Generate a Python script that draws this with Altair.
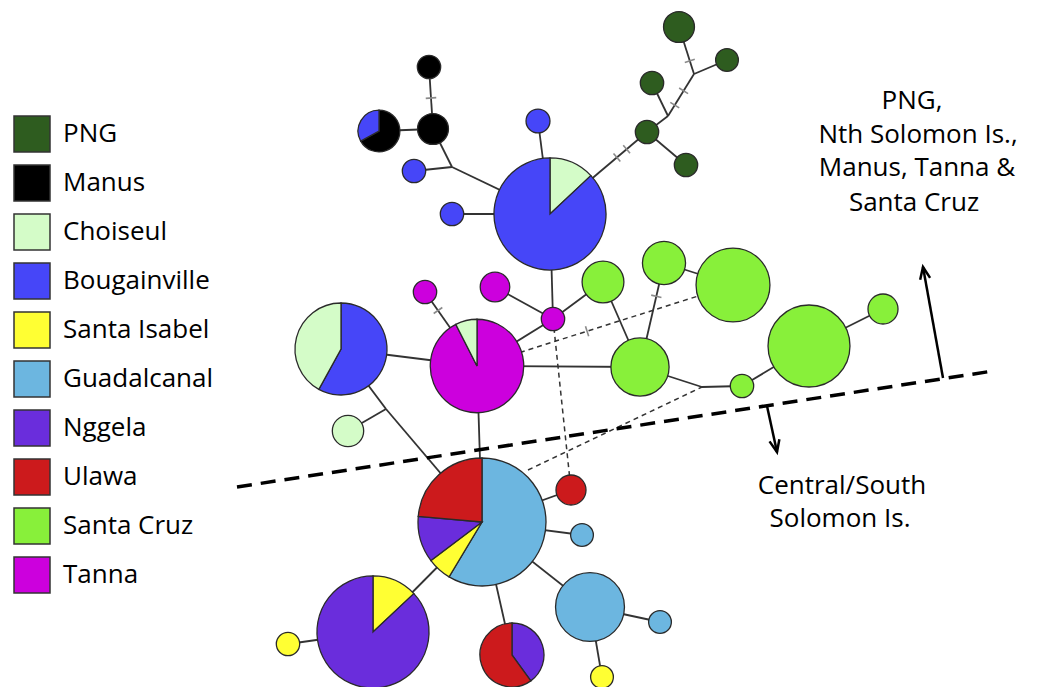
import math
import altair as alt
import pandas as pd

# ---- legend categories and colours ----
regions = ["PNG", "Manus", "Choiseul", "Bougainville", "Santa Isabel",
           "Guadalcanal", "Nggela", "Ulawa", "Santa Cruz", "Tanna"]
region_colors = ["#2e5c1f", "#000000", "#d4fcc8", "#4646f8", "#ffff33",
                 "#6cb6e0", "#6a2ddc", "#cc1a1c", "#88f03a", "#cc00dd"]

# ---- haplotype nodes: layout position and frequency ----
node_ids = ["M1", "M2", "MP", "B1", "B2", "B3", "BB",
            "P1", "P2", "P3", "P4", "P5",
            "CB", "C1", "T1", "T2", "T3", "TB",
            "SA", "SB", "SC", "SD", "SE", "SF", "SG",
            "GB", "R1", "G1", "GM", "G2", "Y1", "UN", "NB", "Y2",
            "J1", "J2", "J3", "J4", "J5", "J6"]
node_x = [429, 433, 379, 414, 452, 538, 550,
          679, 727, 652, 647, 686,
          341, 348, 425, 495, 553, 477,
          603, 664, 733, 640, 742, 809, 883,
          482, 571, 582, 590, 660, 602, 512, 373, 288,
          452, 694, 668, 702, 386, 528]
node_y = [63, 125, 127, 167, 210, 117, 210,
          23, 56, 79, 128, 161,
          345, 427, 288, 283, 315, 362,
          278, 259, 281, 363, 382, 342, 305,
          518, 486, 531, 603, 618, 673, 651, 628, 640,
          163, 70, 112, 383, 405, 466]
node_freq = [1.0, 1.75, 3.2, 1.0, 1.0, 1.05, 23,
             1.75, 0.95, 1.0, 1.0, 1.0,
             15.5, 1.8, 1.0, 1.6, 1.0, 16,
             3.2, 3.4, 10, 6.2, 1.0, 12.3, 1.65,
             30, 1.65, 0.95, 8.7, 0.95, 0.95, 7.5, 23, 1.0,
             0, 0, 0, 0, 0, 0]

# ---- pie composition of each haplotype (clockwise from 12 o'clock) ----
slice_node = ["M1", "M2", "MP", "MP", "B1", "B2", "B3", "BB", "BB",
              "P1", "P2", "P3", "P4", "P5",
              "CB", "CB", "C1", "T1", "T2", "T3", "TB", "TB",
              "SA", "SB", "SC", "SD", "SE", "SF", "SG",
              "GB", "GB", "GB", "GB", "R1", "G1", "GM", "G2", "Y1",
              "UN", "UN", "NB", "NB", "Y2"]
slice_region = ["Manus", "Manus", "Manus", "Bougainville", "Bougainville",
                "Bougainville", "Bougainville", "Choiseul", "Bougainville",
                "PNG", "PNG", "PNG", "PNG", "PNG",
                "Bougainville", "Choiseul", "Choiseul", "Tanna", "Tanna", "Tanna",
                "Tanna", "Choiseul",
                "Santa Cruz", "Santa Cruz", "Santa Cruz", "Santa Cruz",
                "Santa Cruz", "Santa Cruz", "Santa Cruz",
                "Guadalcanal", "Santa Isabel", "Nggela", "Ulawa", "Ulawa",
                "Guadalcanal", "Guadalcanal", "Guadalcanal", "Santa Isabel",
                "Nggela", "Ulawa", "Santa Isabel", "Nggela", "Santa Isabel"]
slice_share = [1, 1, 0.67, 0.33, 1, 1, 1, 0.13, 0.87,
               1, 1, 1, 1, 1,
               0.58, 0.42, 1, 1, 1, 1, 0.925, 0.075,
               1, 1, 1, 1, 1, 1, 1,
               0.586, 0.061, 0.117, 0.236, 1, 1, 1, 1, 1,
               0.4, 0.6, 0.13, 0.87, 1]

# ---- network links ----
edge_from = ["M1", "M2", "M2", "J1", "J1", "B2", "B3", "BB", "P4", "P4", "J3", "J3",
             "J2", "J2", "BB", "T3", "T3", "T3", "T1", "CB", "CB", "J5", "J5", "TB",
             "TB", "SA", "SD", "SB", "SD", "J4", "SE", "SF",
             "GB", "GB", "GB", "GB", "GB", "GM", "GM", "NB",
             "TB", "T3", "J6"]
edge_to = ["M2", "MP", "J1", "B1", "BB", "BB", "BB", "P4", "P5", "J3", "P3", "J2",
           "P2", "P1", "T3", "T2", "TB", "SA", "TB", "TB", "J5", "C1", "GB", "GB",
           "SD", "SD", "SB", "SC", "J4", "SE", "SF", "SG",
           "R1", "G1", "GM", "UN", "NB", "G2", "Y1", "Y2",
           "SC", "R1", "J4"]
edge_style = ["solid"] * 40 + ["dashed"] * 3

# ---- mutation ticks on links (link ends, position along link) ----
tick_from = ["M1", "J2", "J3", "J3", "BB", "BB", "T1", "SD", "TB"]
tick_to = ["M2", "P1", "J2", "J2", "P4", "P4", "TB", "SB", "SC"]
tick_pos = [0.5, 0.28, 0.26, 0.6, 0.69, 0.79, 0.25, 0.68, 0.43]

# ---- region divider and arrows ----
divider_x = [237]
divider_y = [483]
divider_x2 = [993]
divider_y2 = [367]
arrow_x0 = [943, 767]
arrow_y0 = [374, 402]
arrow_x1 = [923, 777]
arrow_y1 = [263, 448]

# ---- annotation text ----
ann_text = ["PNG,", "Nth Solomon Is.,", "Manus, Tanna &", "Santa Cruz",
            "Central/South", "Solomon Is."]
ann_x = [912, 918, 917, 914, 842, 840]
ann_y = [105, 139, 172, 207, 490, 523]

# ---------------- build tables ----------------
nodes = pd.DataFrame({"id": node_ids, "x": node_x, "y": node_y, "freq": node_freq})
pos = nodes.set_index("id")

sl = pd.DataFrame({"id": slice_node, "region": slice_region, "share": slice_share})
tot = sl.groupby("id")["share"].transform("sum")
sl["t1"] = sl.groupby("id")["share"].cumsum() / tot
sl["t0"] = sl["t1"] - sl["share"] / tot
sl = sl.merge(nodes, on="id", how="left")

ed = pd.DataFrame({"a": edge_from, "b": edge_to, "style": edge_style})
ed["x"] = ed["a"].map(pos["x"])
ed["y"] = ed["a"].map(pos["y"])
ed["x2"] = ed["b"].map(pos["x"])
ed["y2"] = ed["b"].map(pos["y"])

tk = pd.DataFrame({"a": tick_from, "b": tick_to, "p": tick_pos})
ax_, ay_ = tk["a"].map(pos["x"]), tk["a"].map(pos["y"])
bx_, by_ = tk["b"].map(pos["x"]), tk["b"].map(pos["y"])
tk["x"] = ax_ + (bx_ - ax_) * tk["p"]
tk["y"] = ay_ + (by_ - ay_) * tk["p"]
tk["ang"] = [(math.degrees(math.atan2(dy, dx)) + 90) % 180
             for dx, dy in zip(bx_ - ax_, by_ - ay_)]

div = pd.DataFrame({"x": divider_x, "y": divider_y, "x2": divider_x2, "y2": divider_y2})
arr = pd.DataFrame({"x": arrow_x0, "y": arrow_y0, "x2": arrow_x1, "y2": arrow_y1})
heads = pd.DataFrame({"x": arrow_x1, "y": arrow_y1})
heads["ang"] = [math.degrees(math.atan2(x1 - x0, -(y1 - y0))) % 360
                for x0, y0, x1, y1 in zip(arrow_x0, arrow_y0, arrow_x1, arrow_y1)]
ann = pd.DataFrame({"text": ann_text, "x": ann_x, "y": ann_y})

# ---------------- chart ----------------
xs = alt.Scale(domain=[8, 1031], nice=False, zero=False)
ys = alt.Scale(domain=[8, 679], nice=False, zero=False, reverse=True)
X = alt.X("x:Q", scale=xs, axis=None)
Y = alt.Y("y:Q", scale=ys, axis=None)

solid = alt.Chart(ed[ed["style"] == "solid"]).mark_rule(
    color="#333333", strokeWidth=1.8).encode(x=X, y=Y, x2="x2:Q", y2="y2:Q")
dashed = alt.Chart(ed[ed["style"] == "dashed"]).mark_rule(
    color="#333333", strokeWidth=1.5, strokeDash=[5, 4]).encode(
    x=X, y=Y, x2="x2:Q", y2="y2:Q")
ticks = alt.Chart(tk).mark_point(
    shape="M-1,0L1,0", filled=False, stroke="#8a8a8a", strokeWidth=1.6,
    size=110, opacity=1).encode(x=X, y=Y, angle=alt.Angle("ang:Q", scale=None))
divider = alt.Chart(div).mark_rule(
    color="black", strokeWidth=3.5, strokeDash=[15, 9]).encode(
    x=X, y=Y, x2="x2:Q", y2="y2:Q")
arrows = alt.Chart(arr).mark_rule(color="black", strokeWidth=2.5).encode(
    x=X, y=Y, x2="x2:Q", y2="y2:Q")
arrowheads = alt.Chart(heads).mark_point(
    shape="M-0.42,1L0,0L0.42,1", filled=False, stroke="black", strokeWidth=2.5,
    size=576, opacity=1).encode(x=X, y=Y, angle=alt.Angle("ang:Q", scale=None))

pies = alt.Chart(sl).mark_arc(stroke="#2a2a2a", strokeWidth=1.3).encode(
    x=X, y=Y,
    theta=alt.Theta("t0:Q", stack=None,
                    scale=alt.Scale(domain=[0, 1], range=[0, 2 * math.pi])),
    theta2="t1:Q",
    radius=alt.Radius("freq:Q",
                      scale=alt.Scale(type="sqrt", domain=[0, 30], range=[0, 64], zero=True)),
    color=alt.Color("region:N",
                    scale=alt.Scale(domain=regions, range=region_colors),
                    legend=alt.Legend(
                        orient="none", legendX=5, legendY=103, direction="vertical",
                        title=None, symbolType="square", symbolSize=1296,
                        symbolStrokeColor="#333333", symbolStrokeWidth=1.5,
                        symbolOpacity=1, labelFont="Open Sans", labelFontSize=26,
                        labelColor="black", rowPadding=7, labelOffset=12,
                        padding=0, labelLimit=300)),
)

texts = alt.Chart(ann).mark_text(
    align="center", baseline="alphabetic", font="Open Sans", fontSize=26,
    color="black").encode(x=X, y=Y, text="text:N")

chart = alt.layer(solid, dashed, ticks, divider, arrows, pies, arrowheads, texts).properties(
    width=1023, height=671, padding=0
).configure_view(stroke=None)

chart.save("out.html", embed_options={"renderer": "svg", "actions": False})
